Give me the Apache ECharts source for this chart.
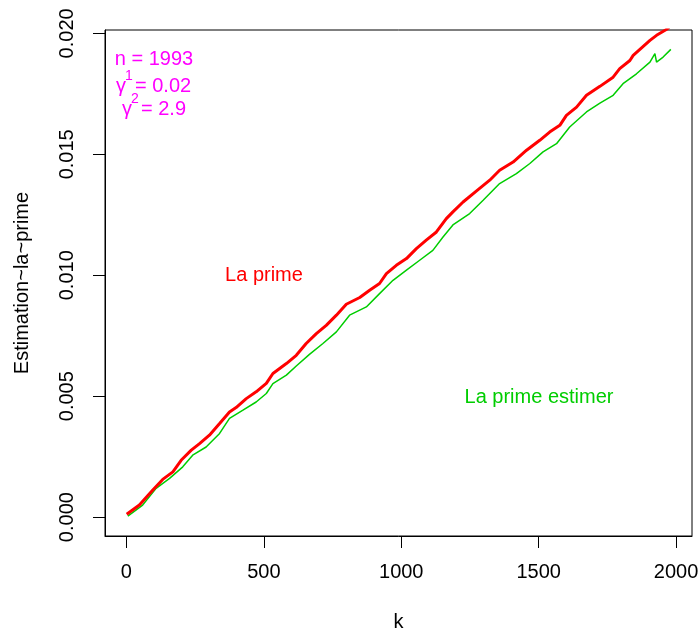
<!DOCTYPE html>
<html>
<head>
<meta charset="utf-8">
<script src="https://cdn.jsdelivr.net/npm/echarts@6/dist/echarts.min.js"></script>
<style>
html,body{margin:0;padding:0;background:#fff;}
#c{width:700px;height:637px;}
</style>
</head>
<body>
<div id="c"></div>
<script>
var xTicks = [0, 500, 1000, 1500, 2000];
var xTickLabels = ['0', '500', '1000', '1500', '2000'];
var yTicks = [0, 0.005, 0.010, 0.015, 0.020];
var yTickLabels = ['0.000', '0.005', '0.010', '0.015', '0.020'];

var redK = [1,47,96,132,169,199,236,266,302,339,375,399,436,472,509,533,582,618,654,691,727,764,800,849,885,921,946,982,1019,1055,1091,1128,1164,1188,1225,1273,1322,1358,1407,1456,1504,1540,1577,1601,1638,1674,1723,1771,1795,1832,1844,1905,1929,1963,1975];
var redV = [0.00012,0.00050,0.00112,0.00156,0.00187,0.00235,0.00277,0.00304,0.00339,0.00387,0.00435,0.00453,0.00490,0.00518,0.00553,0.00594,0.00635,0.00669,0.00718,0.00759,0.00793,0.00835,0.00880,0.00908,0.00938,0.00966,0.01007,0.01041,0.01069,0.01110,0.01145,0.01179,0.01234,0.01262,0.01303,0.01348,0.01393,0.01434,0.01468,0.01517,0.01558,0.01592,0.01620,0.01661,0.01695,0.01744,0.01781,0.01819,0.01854,0.01888,0.01909,0.01971,0.01992,0.02015,0.02025];

var greenK = [5,59,108,157,205,241,290,339,375,424,472,509,533,582,618,666,715,764,812,873,921,970,1019,1067,1115,1152,1188,1249,1298,1358,1419,1468,1516,1565,1613,1674,1723,1771,1807,1856,1905,1923,1929,1953,1981];
var greenV = [0.00004,0.00050,0.00119,0.00160,0.00208,0.00256,0.00290,0.00346,0.00408,0.00442,0.00476,0.00511,0.00552,0.00587,0.00625,0.00673,0.00718,0.00766,0.00835,0.00869,0.00924,0.00979,0.01021,0.01062,0.01103,0.01158,0.01208,0.01255,0.01310,0.01379,0.01420,0.01462,0.01510,0.01544,0.01613,0.01675,0.01712,0.01744,0.01792,0.01833,0.01881,0.01916,0.01881,0.01902,0.01934];

function zip(a, b) { return a.map(function (v, i) { return [v, b[i]]; }); }
function lookup(v, ticks, labels) {
  for (var i = 0; i < ticks.length; i++) { if (Math.abs(v - ticks[i]) < 1e-9) return labels[i]; }
  return '';
}

var FONT = 'Liberation Sans, Arial, sans-serif';
var RED = '#FF0000', GREEN = '#00CD00', MAG = '#FF00FF';

var chart = echarts.init(document.getElementById('c'), null, {renderer: 'canvas'});
chart.setOption({
  animation: false,
  backgroundColor: '#ffffff',
  grid: {left: 105, top: 30, right: 8, bottom: 101, outerBoundsMode: 'none', containLabel: false,
         show: true, borderColor: '#000', borderWidth: 1, backgroundColor: 'transparent'},
  xAxis: {
    type: 'value', min: -78, max: 2058,
    name: 'k', nameLocation: 'middle', nameGap: 76,
    nameTextStyle: {fontFamily: FONT, fontSize: 20, color: '#000'},
    axisLine: {show: true, onZero: false, lineStyle: {color: '#000', width: 1}},
    axisTick: {show: true, inside: false, length: 12, customValues: xTicks, lineStyle: {color: '#000'}},
    axisLabel: {customValues: xTicks, margin: 26, fontFamily: FONT, fontSize: 20, color: '#000',
      showMinLabel: true, showMaxLabel: true, hideOverlap: false,
      formatter: function (v) { return lookup(v, xTicks, xTickLabels); }},
    splitLine: {show: false}
  },
  yAxis: {
    type: 'value', min: -0.00078, max: 0.02014,
    name: 'Estimation~la~prime', nameLocation: 'middle', nameGap: 73, nameRotate: 90,
    nameTextStyle: {fontFamily: FONT, fontSize: 20, color: '#000'},
    axisLine: {show: true, onZero: false, lineStyle: {color: '#000', width: 1}},
    axisTick: {show: true, inside: false, length: 12, customValues: yTicks, lineStyle: {color: '#000'}},
    axisLabel: {
      customValues: yTicks, rotate: 90, margin: 28, fontFamily: FONT, fontSize: 20, color: '#000',
      showMinLabel: true, showMaxLabel: true, hideOverlap: false,
      formatter: function (v) { return lookup(v, yTicks, yTickLabels); }
    },
    splitLine: {show: false}
  },
  series: [
    {type: 'line', name: 'La prime', data: zip(redK, redV), showSymbol: false, symbol: 'none', clip: true,
     lineStyle: {color: RED, width: 3}, itemStyle: {color: RED}, z: 3},
    {type: 'line', name: 'La prime estimer', data: zip(greenK, greenV), showSymbol: false, symbol: 'none', clip: true,
     lineStyle: {color: GREEN, width: 1.5}, itemStyle: {color: GREEN}, z: 2}
  ],
  graphic: [
    {type: 'text', x: 264, y: 275, style: {text: 'La prime', fill: RED, font: '20px ' + FONT, textAlign: 'center', textVerticalAlign: 'middle'}},
    {type: 'text', x: 539, y: 397, style: {text: 'La prime estimer', fill: GREEN, font: '20px ' + FONT, textAlign: 'center', textVerticalAlign: 'middle'}},
    {type: 'text', x: 154, y: 59, style: {text: 'n = 1993', fill: MAG, font: '20px ' + FONT, textAlign: 'center', textVerticalAlign: 'middle'}},
    {type: 'text', x: 116, y: 86, style: {text: 'γ', fill: MAG, font: '20px ' + FONT, textAlign: 'left', textVerticalAlign: 'middle'}},
    {type: 'text', x: 125, y: 76, style: {text: '1', fill: MAG, font: '14px ' + FONT, textAlign: 'left', textVerticalAlign: 'middle'}},
    {type: 'text', x: 135, y: 86, style: {text: '= 0.02', fill: MAG, font: '20px ' + FONT, textAlign: 'left', textVerticalAlign: 'middle'}},
    {type: 'text', x: 122, y: 109, style: {text: 'γ', fill: MAG, font: '20px ' + FONT, textAlign: 'left', textVerticalAlign: 'middle'}},
    {type: 'text', x: 131, y: 99, style: {text: '2', fill: MAG, font: '14px ' + FONT, textAlign: 'left', textVerticalAlign: 'middle'}},
    {type: 'text', x: 141, y: 109, style: {text: '= 2.9', fill: MAG, font: '20px ' + FONT, textAlign: 'left', textVerticalAlign: 'middle'}}
  ]
});
</script>
</body>
</html>
